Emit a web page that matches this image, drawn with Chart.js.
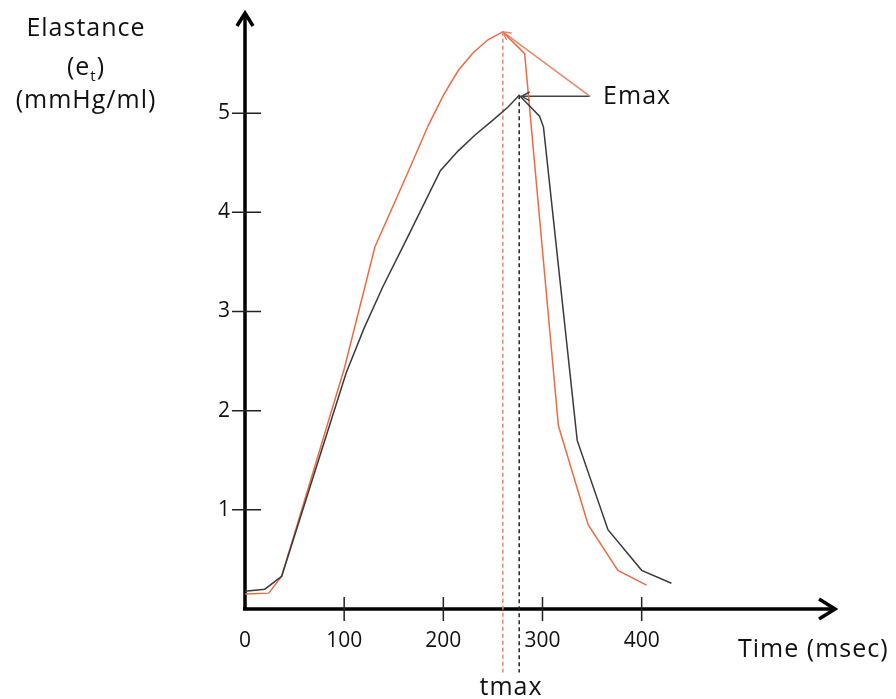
<!DOCTYPE html>
<html>
<head>
<meta charset="utf-8">
<script src="https://cdn.jsdelivr.net/npm/chart.js@4"></script>
<style>
  html, body { margin: 0; padding: 0; background: #fff; }
  #wrap { width: 896px; height: 699px; position: relative; }
</style>
</head>
<body>
<div id="wrap"><canvas id="grafico"></canvas></div>
<script>
// valores: tempo (msec) e elastancia (mmHg/ml)
const tempoPreto = [0, 20, 37, 102, 120, 139, 164, 197, 215, 232, 250, 265, 276.5, 297, 301, 335, 366, 400, 430];
const elastPreto = [0.18, 0.20, 0.33, 2.38, 2.83, 3.25, 3.75, 4.42, 4.62, 4.78, 4.93, 5.06, 5.18, 4.97, 4.86, 1.70, 0.80, 0.39, 0.26];
const tempoVermelho = [0, 24, 37, 100, 131, 165, 185, 200, 215, 230, 245, 260, 282, 316, 346, 376, 405];
const elastVermelho = [0.15, 0.16, 0.33, 2.42, 3.65, 4.42, 4.88, 5.18, 5.43, 5.61, 5.74, 5.82, 5.60, 1.85, 0.85, 0.39, 0.24];

const ticksX = [0, 100, 200, 300, 400];
const ticksY = [1, 2, 3, 4, 5];

// tmax / Emax de cada curva
const tmax = [260, 276.5];
const emax = [5.82, 5.18];
const fimTracejado = -0.64;       // as linhas tracejadas descem abaixo do eixo
const origemSeta = [348, 5.17];   // de onde saem as setas do rotulo Emax
const fimSetaPreta = [279, 5.17];

const pontos = (xs, ys) => xs.map((v, i) => ({ x: v, y: ys[i] }));

const ctx = document.getElementById('grafico');

// eixos com seta, marcas e textos soltos
const eixos = {
  id: 'eixos',
  beforeDatasetsDraw(chart) {
    const c = chart.ctx;
    const { x, y } = chart.scales;
    const x0 = x.getPixelForValue(0), y0 = y.getPixelForValue(0);
    const xFim = x.getPixelForValue(596), yFim = y.getPixelForValue(6.02);
    c.save();
    c.strokeStyle = '#000';
    c.lineWidth = 3.5;
    c.beginPath();
    c.moveTo(x0 - 2, y0); c.lineTo(xFim - 2, y0);
    c.moveTo(x0, y0 + 1.5); c.lineTo(x0, yFim + 2);
    c.stroke();
    c.lineJoin = 'miter';
    c.beginPath();
    c.moveTo(xFim - 17, y0 - 10); c.lineTo(xFim - 1, y0); c.lineTo(xFim - 17, y0 + 10);
    c.moveTo(x0 - 8, yFim + 14); c.lineTo(x0, yFim + 1); c.lineTo(x0 + 8, yFim + 14);
    c.stroke();
    c.lineWidth = 1.5;
    c.strokeStyle = '#222';
    c.beginPath();
    ticksX.filter(v => v > 0).forEach(v => {
      const px = x.getPixelForValue(v);
      c.moveTo(px, y0 - 12); c.lineTo(px, y0 + 12);
    });
    ticksY.forEach(v => {
      const py = y.getPixelForValue(v);
      c.moveTo(x0 - 13, py); c.lineTo(x0 + 16, py);
    });
    c.stroke();
    c.restore();
  },
  afterDatasetsDraw(chart) {
    const c = chart.ctx;
    // pontas das setas do Emax
    chart.data.datasets.forEach((ds, i) => {
      if (!ds.seta) return;
      const pts = chart.getDatasetMeta(i).data;
      const a = pts[pts.length - 2], b = pts[pts.length - 1];
      const ang = Math.atan2(b.y - a.y, b.x - a.x);
      c.save();
      c.strokeStyle = ds.borderColor;
      c.lineWidth = 1.5;
      c.beginPath();
      c.moveTo(b.x - 9 * Math.cos(ang - 0.5), b.y - 9 * Math.sin(ang - 0.5));
      c.lineTo(b.x, b.y);
      c.lineTo(b.x - 9 * Math.cos(ang + 0.5), b.y - 9 * Math.sin(ang + 0.5));
      c.stroke();
      c.restore();
    });
  },
  afterDraw(chart) {
    const c = chart.ctx;
    const { x, y } = chart.scales;
    c.save();
    c.fillStyle = '#111';
    c.letterSpacing = '1px';
    c.font = '25px "Open Sans"';
    c.textBaseline = 'alphabetic';
    c.textAlign = 'center';
    c.fillText('Elastance', 86, 36);
    c.fillText('(mmHg/ml)', 86, 108);
    // (e com t subscrito)
    c.textAlign = 'left';
    const wa = c.measureText('(e').width, wc = c.measureText(')').width;
    c.font = '15px "Open Sans"';
    const wb = c.measureText('t').width;
    let sx = 86 - (wa + wb + wc) / 2;
    c.font = '25px "Open Sans"';
    c.fillText('(e', sx, 75);
    c.font = '15px "Open Sans"';
    c.fillText('t', sx + wa, 81);
    c.font = '25px "Open Sans"';
    c.fillText(')', sx + wa + wb, 75);

    c.fillText('Time (msec)', 738, 657);
    const ex = x.getPixelForValue(origemSeta[0]) + 13;
    const ey = y.getPixelForValue(origemSeta[1]) + 8;
    c.fillText('Emax', ex, ey);
    c.textAlign = 'center';
    const tx = (x.getPixelForValue(tmax[0]) + x.getPixelForValue(tmax[1])) / 2;
    c.fillText('tmax', tx, 695);
    c.restore();
  }
};

let chart = new Chart(ctx, {
  type: 'line',
  data: {
    datasets: [
      {
        label: 'preto',
        data: pontos(tempoPreto, elastPreto),
        borderColor: '#3a3a3a',
        borderWidth: 1.5,
        pointRadius: 0,
        tension: 0
      },
      {
        label: 'vermelho',
        data: pontos(tempoVermelho, elastVermelho),
        borderColor: '#ee6a44',
        borderWidth: 1.5,
        pointRadius: 0,
        tension: 0
      },
      {
        label: 'tmax vermelho',
        data: [{ x: tmax[0], y: emax[0] }, { x: tmax[0], y: fimTracejado }],
        borderColor: '#de8a6e',
        borderWidth: 1.5,
        borderDash: [4, 3],
        pointRadius: 0,
        clip: false
      },
      {
        label: 'tmax preto',
        data: [{ x: tmax[1], y: emax[1] }, { x: tmax[1], y: fimTracejado }],
        borderColor: '#222',
        borderWidth: 1.5,
        borderDash: [4, 3],
        pointRadius: 0,
        clip: false
      },
      {
        label: 'seta vermelha',
        data: [{ x: origemSeta[0], y: origemSeta[1] }, { x: tmax[0], y: emax[0] }],
        borderColor: '#e8866c',
        borderWidth: 1.5,
        pointRadius: 0,
        seta: true
      },
      {
        label: 'seta preta',
        data: [{ x: origemSeta[0], y: origemSeta[1] }, { x: fimSetaPreta[0], y: fimSetaPreta[1] }],
        borderColor: '#444',
        borderWidth: 1.5,
        pointRadius: 0,
        seta: true
      }
    ]
  },
  options: {
    responsive: true,
    maintainAspectRatio: false,
    animation: false,
    layout: { padding: { top: 14, right: 56, left: 0, bottom: 0 } },
    plugins: { legend: { display: false }, tooltip: { enabled: false } },
    scales: {
      x: {
        type: 'linear',
        min: 0,
        max: 600,
        grid: { display: false },
        border: { display: false },
        afterFit: s => { s.height = 90; s.paddingLeft = 0; s.paddingRight = 0; },
        ticks: {
          stepSize: 100,
          padding: 11,
          color: '#111',
          font: { family: 'Open Sans', size: 21 },
          callback: v => ticksX.includes(v) ? String(v) : null
        }
      },
      y: {
        min: 0,
        max: 6,
        grid: { display: false },
        border: { display: false },
        // sem folga extra: a area do grafico comeca no topo fixado
        afterFit: s => { s.width = 245; s.paddingTop = 0; s.paddingBottom = 0; },
        ticks: {
          stepSize: 1,
          padding: 7,
          color: '#111',
          font: { family: 'Open Sans', size: 21 },
          callback: v => ticksY.includes(v) ? String(v) : null
        }
      }
    }
  },
  plugins: [eixos]
});
</script>
</body>
</html>
